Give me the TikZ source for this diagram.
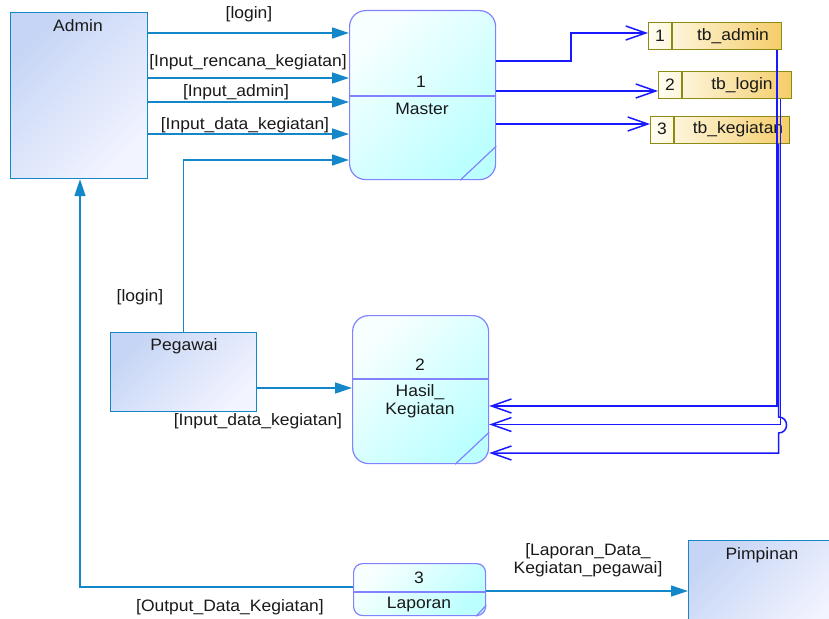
\documentclass[tikz,border=0pt]{standalone}
\usepackage{fontspec}
\setmainfont{Liberation Sans}[FakeStretch=1.06]
\usetikzlibrary{arrows.meta,calc}
\definecolor{entline}{RGB}{20,135,200}
\definecolor{entA}{RGB}{198,213,245}
\definecolor{entB}{RGB}{242,244,255}
\definecolor{procline}{RGB}{130,130,255}
\definecolor{procA}{RGB}{248,255,255}
\definecolor{procB}{RGB}{188,255,255}
\definecolor{storeline}{RGB}{140,140,20}
\definecolor{storeA}{RGB}{255,253,242}
\definecolor{storeB}{RGB}{245,205,105}
\definecolor{dline}{RGB}{25,25,255}
\begin{document}
\begin{tikzpicture}[x=1pt,y=-1pt,
  font=\fontsize{16.5}{19}\selectfont,
  entity/.style={draw=entline, line width=1.2pt, top color=entA, bottom color=entB, shading angle=45, anchor=north west, inner sep=0pt},
  proc/.style={draw=procline, line width=1.2pt, rounded corners=16pt, top color=procA, bottom color=procB, shading angle=45, anchor=north west, inner sep=0pt},
  procsep/.style={draw=procline, line width=1.2pt},
  store/.style={draw=storeline, line width=1.2pt, left color=storeA, right color=storeB, anchor=north west, inner sep=0pt, minimum height=27pt},
  storesep/.style={draw=storeline, line width=1.2pt},
  flow/.style={draw=entline, line width=1.3pt, -{Triangle[length=17pt,width=11pt]}},
  dflow/.style={draw=dline, line width=1.5pt, -{Straight Barb[length=20pt,width=14pt,line width=1.5pt]}},
  lbl/.style={inner sep=0pt, text=black!90}
]
\useasboundingbox (0,0) rectangle (829,618);

% external entities
\node[entity, minimum width=137pt, minimum height=166pt] (admin) at (10,12) {};
\node[lbl] (adminT) at (78,26) {Admin};
\node[entity, minimum width=146pt, minimum height=79pt] (pegawai) at (110,332) {};
\node[lbl] (pegawaiT) at (184,346) {Pegawai};
\node[entity, minimum width=150pt, minimum height=90pt] (pimpinan) at (688,540) {};
\node[lbl] (pimpinanT) at (762,555) {Pimpinan};

% processes
\node[proc, minimum width=146pt, minimum height=169pt] (master) at (349,10) {};
\draw[procsep] (master.west |- 0,96) -- (master.east |- 0,96);
\draw[procsep] ($(master.south east)+(-36,0)$) -- ($(master.south east)+(0,-34)$);
\node[lbl] (masterN) at (421,82) {1};
\node[lbl] (masterT) at (422,109) {Master};

\node[proc, minimum width=136pt, minimum height=148pt] (hasil) at (352,315) {};
\draw[procsep] (hasil.west |- 0,379) -- (hasil.east |- 0,379);
\draw[procsep] ($(hasil.south east)+(-34,0)$) -- ($(hasil.south east)+(0,-32)$);
\node[lbl] (hasilN) at (420,365) {2};
\node[lbl, align=center] (hasilT) at (420,401) {Hasil\_\\[-1pt]Kegiatan};

\node[proc, rounded corners=9pt, minimum width=132pt, minimum height=52pt] (laporan) at (353,563) {};
\draw[procsep] (laporan.west |- 0,592) -- (laporan.east |- 0,592);
\draw[procsep] ($(laporan.south east)+(-10,0)$) -- ($(laporan.south east)+(0,-11)$);
\node[lbl] (laporanN) at (419,578) {3};
\node[lbl] (laporanT) at (419,605) {Laporan};

% data stores
\node[store, minimum width=133pt] (tbadmin) at (648,22) {};
\draw[storesep] ($(tbadmin.north west)+(24,0)$) -- ($(tbadmin.south west)+(24,0)$);
\node[lbl] (tbadminN) at (660,36) {1};
\node[lbl] (tbadminT) at (733,36) {tb\_admin};

\node[store, minimum width=133pt] (tblogin) at (658,71) {};
\draw[storesep] ($(tblogin.north west)+(24,0)$) -- ($(tblogin.south west)+(24,0)$);
\node[lbl] (tbloginN) at (670,85) {2};
\node[lbl] (tbloginT) at (742,85) {tb\_login};

\node[store, minimum width=139pt] (tbkeg) at (650,116) {};
\draw[storesep] ($(tbkeg.north west)+(24,0)$) -- ($(tbkeg.south west)+(24,0)$);
\node[lbl] (tbkegN) at (662,129) {3};
\node[lbl] (tbkegT) at (738,129) {tb\_kegiatan};

% Admin -> Master
\draw[flow] (admin.east |- 0,33) -- (master.west |- 0,33);
\draw[flow] (admin.east |- 0,78) -- (master.west |- 0,78);
\draw[flow] (admin.east |- 0,102) -- (master.west |- 0,102);
\draw[flow] (admin.east |- 0,134) -- (master.west |- 0,134);
\node[lbl] (l1) at (249,14) {[login]};
\node[lbl] (l2) at (248,62) {[Input\_rencana\_kegiatan]};
\node[lbl] (l3) at (236,92) {[Input\_admin]};
\node[lbl] (l4) at (245,125) {[Input\_data\_kegiatan]};

% Pegawai -> Master, Pegawai -> Hasil
\draw[flow] (pegawai.north) |- (master.west |- 0,160);
\node[lbl] (l5) at (140,297) {[login]};
\draw[flow] (pegawai.east |- 0,388) -- (hasil.west |- 0,388);
\node[lbl] (l6) at (258,421) {[Input\_data\_kegiatan]};

% Master -> stores
\draw[dflow] (master.east |- 0,61) -- (571,61) |- (tbadmin.west |- 0,33);
\draw[dflow] (master.east |- 0,91) -- (tblogin.west |- 0,91);
\draw[dflow] (master.east |- 0,124) -- (tbkeg.west |- 0,124);

% stores -> Hasil
\draw[dflow] (tbadmin.south -| 777,0) |- (hasil.east |- 0,406);
\draw[dflow] (tblogin.south -| 780.5,0) |- (hasil.east |- 0,424.5);
\draw[dflow] (tbkeg.south -| 778.5,0) -- (778.5,417)
  .. controls (789.2,417) and (789.2,433) .. (778.5,433) -- (778.5,453) -- (hasil.east |- 0,453);

% Laporan -> Admin, Laporan -> Pimpinan
\draw[flow] (laporan.west |- 0,587) -| (admin.south -| 80,0);
\node[lbl] (l7) at (230,607) {[Output\_Data\_Kegiatan]};
\draw[flow] (laporan.east |- 0,591) -- (pimpinan.west |- 0,591);
\node[lbl, align=center] (l8) at (588,560) {[Laporan\_Data\_\\[-1pt]Kegiatan\_pegawai]};
\end{tikzpicture}
\end{document}
